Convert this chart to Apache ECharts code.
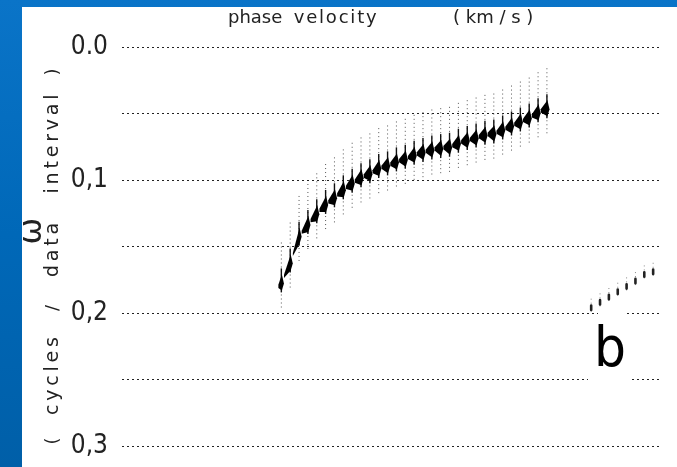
<!DOCTYPE html>
<html>
<head>
<meta charset="utf-8">
<script src="https://cdn.jsdelivr.net/npm/echarts@6/dist/echarts.min.js"></script>
<style>
  html, body { margin: 0; padding: 0; width: 677px; height: 467px; overflow: hidden;
    background: linear-gradient(to bottom, #0a74c8 0%, #0068b8 50%, #005fa8 100%); }
  #chart { position: absolute; left: 22px; top: 7px; width: 655px; height: 460px; background: #fff; }
</style>
</head>
<body>
<div id="chart"></div>
<script>
// Trace numbers (horizontal position of each seismogram trace) and picked peak frequency
const traceNo = [18, 19, 20, 21, 22, 23, 24, 25, 26, 27, 28, 29, 30, 31, 32, 33,
                 34, 35, 36, 37, 38, 39, 40, 41, 42, 43, 44, 45, 46, 47, 48];
const mainFreq = [0.177, 0.162, 0.142, 0.133, 0.125, 0.118, 0.113, 0.107, 0.102, 0.098,
                  0.095, 0.091, 0.089, 0.086, 0.084, 0.081, 0.079, 0.077, 0.076, 0.075,
                  0.072, 0.070, 0.068, 0.066, 0.065, 0.062, 0.059, 0.056, 0.053, 0.049, 0.046];
// Second, weaker branch near the lower right
const secondTraceNo = [53, 54, 55, 56, 57, 58, 59, 60];
const secondFreq = [0.196, 0.192, 0.188, 0.184, 0.180, 0.176, 0.171, 0.169];

// Frequency axis labels
const yLabelValues = [0, 0.1, 0.2, 0.3];
const yLabelTexts = ['0.0', '0,1', '0,2', '0,3'];

const STEM_UP = 0.03;    // dotted trace extent above the peak (frequency units)
const STEM_DOWN = 0.02;  // dotted trace extent below the peak

const thinFont = "'DejaVu Sans', 'Open Sans', sans-serif";
const numFont = "'DejaVu Sans Condensed', 'Liberation Sans Narrow', 'DejaVu Sans', sans-serif";

function renderMain(params, api) {
  const i = params.dataIndex;
  const x = api.value(0), f = api.value(1);
  const p = api.coord([x, f]);
  const top = api.coord([x, f - STEM_UP]);
  const bot = api.coord([x, f + STEM_DOWN]);
  let L;
  if (i > 0) {
    const q = api.coord([traceNo[i - 1], mainFreq[i - 1]]);
    L = [p[0] + 0.7 * (q[0] - p[0]), p[1] + 0.7 * (q[1] - p[1])];
  } else {
    L = [p[0] - 3, p[1] + 4];
  }
  return {
    type: 'group',
    children: [
      { type: 'line', shape: { x1: p[0], y1: top[1], x2: p[0], y2: bot[1] },
        style: { stroke: '#555', lineWidth: 1, lineDash: [1, 3] } },
      { type: 'line', shape: { x1: p[0], y1: p[1] - 14, x2: p[0], y2: p[1] + 10 },
        style: { stroke: '#111', lineWidth: 1.4 } },
      { type: 'polygon',
        shape: { points: [[p[0] + 0.5, p[1] - 8], [p[0] + 2.6, p[1] + 1], [p[0] + 0.5, p[1] + 8],
                          [L[0], L[1] + 1.6], [L[0], L[1] - 1.6]] },
        style: { fill: '#000' } }
    ]
  };
}

function renderSecond(params, api) {
  const p = api.coord([api.value(0), api.value(1)]);
  return {
    type: 'group',
    children: [
      { type: 'line', shape: { x1: p[0], y1: p[1] - 9, x2: p[0], y2: p[1] + 7 },
        style: { stroke: '#888', lineWidth: 1, lineDash: [1, 3] } },
      { type: 'rect', shape: { x: p[0] - 1.3, y: p[1] - 3.5, width: 2.6, height: 7, r: 1.3 },
        style: { fill: '#222' } }
    ]
  };
}

const chart = echarts.init(document.getElementById('chart'), null, { renderer: 'canvas' });
chart.setOption({
  backgroundColor: '#fff',
  animation: false,
  grid: { left: 100, right: 15, top: 40, bottom: 21, containLabel: false },
  xAxis: {
    type: 'value', min: 0, max: 61,
    axisLine: { show: false }, axisTick: { show: false }, axisLabel: { show: false },
    splitLine: { show: false }
  },
  yAxis: {
    type: 'value', inverse: true, min: 0, max: 0.3, interval: 0.05,
    axisLine: { show: false }, axisTick: { show: false },
    axisLabel: {
      margin: 14, fontSize: 26, color: '#222', fontFamily: numFont,
      formatter: function (v) {
        for (let k = 0; k < yLabelValues.length; k++) {
          if (Math.abs(v - yLabelValues[k]) < 1e-9) return yLabelTexts[k];
        }
        return '';
      }
    },
    splitLine: { show: true, lineStyle: { color: '#222', width: 1, type: [2, 3] } }
  },
  graphic: [
    // breaks in the lower grid lines around the panel letter
    { type: 'rect', z: 1, shape: { x: 576, y: 303, width: 26, height: 6 }, style: { fill: '#fff' } },
    { type: 'rect', z: 1, shape: { x: 566, y: 370, width: 43, height: 6 }, style: { fill: '#fff' } },
    { type: 'text', z: 5, x: 206, y: 11,
      style: { text: 'phase  v\u200ae\u200al\u200ao\u200ac\u200ai\u200at\u200ay', fontSize: 18, fontFamily: thinFont,
               fill: '#222', textAlign: 'left', textVerticalAlign: 'middle' } },
    { type: 'text', z: 5, x: 431, y: 11,
      style: { text: '( km / s )', fontSize: 18, fontFamily: thinFont,
               fill: '#222', textAlign: 'left', textVerticalAlign: 'middle' } },
    // rotated axis name
    { type: 'text', z: 5, x: 11, y: 224, rotation: Math.PI / 2,
      style: { text: '\u03c9', fontSize: 32, fontFamily: thinFont, fill: '#222',
               textAlign: 'center', textVerticalAlign: 'middle' } },
    { type: 'text', z: 5, x: 31, y: 65, rotation: Math.PI / 2,
      style: { text: ')', fontSize: 18, fontFamily: thinFont, fill: '#222', textAlign: 'center', textVerticalAlign: 'middle' } },
    { type: 'text', z: 5, x: 31, y: 137, rotation: Math.PI / 2,
      style: { text: 'i\u2009n\u2009t\u2009e\u2009r\u2009v\u2009a\u2009l', fontSize: 19, fontFamily: thinFont, fill: '#222', textAlign: 'center', textVerticalAlign: 'middle' } },
    { type: 'text', z: 5, x: 31, y: 243, rotation: Math.PI / 2,
      style: { text: 'd\u2009a\u2009t\u2009a', fontSize: 19, fontFamily: thinFont, fill: '#222', textAlign: 'center', textVerticalAlign: 'middle' } },
    { type: 'text', z: 5, x: 31, y: 301, rotation: Math.PI / 2,
      style: { text: '/', fontSize: 18, fontFamily: thinFont, fill: '#222', textAlign: 'center', textVerticalAlign: 'middle' } },
    { type: 'text', z: 5, x: 31, y: 369, rotation: Math.PI / 2,
      style: { text: 'c\u2009y\u2009c\u2009l\u2009e\u2009s', fontSize: 19, fontFamily: thinFont, fill: '#222', textAlign: 'center', textVerticalAlign: 'middle' } },
    { type: 'text', z: 5, x: 31, y: 434, rotation: Math.PI / 2,
      style: { text: '(', fontSize: 18, fontFamily: thinFont, fill: '#222', textAlign: 'center', textVerticalAlign: 'middle' } },
    // panel letter
    { type: 'text', z: 5, x: 588, y: 344,
      style: { text: 'b', fontSize: 56, fontFamily: "'Liberation Sans Narrow', 'DejaVu Sans Condensed', sans-serif",
               fill: '#000', textAlign: 'center', textVerticalAlign: 'middle' } }
  ],
  series: [
    {
      type: 'custom', name: 'fundamental', z: 3,
      data: traceNo.map((t, i) => [t, mainFreq[i]]),
      renderItem: renderMain
    },
    {
      type: 'custom', name: 'higher', z: 3,
      data: secondTraceNo.map((t, i) => [t, secondFreq[i]]),
      renderItem: renderSecond
    }
  ]
});
</script>
</body>
</html>
